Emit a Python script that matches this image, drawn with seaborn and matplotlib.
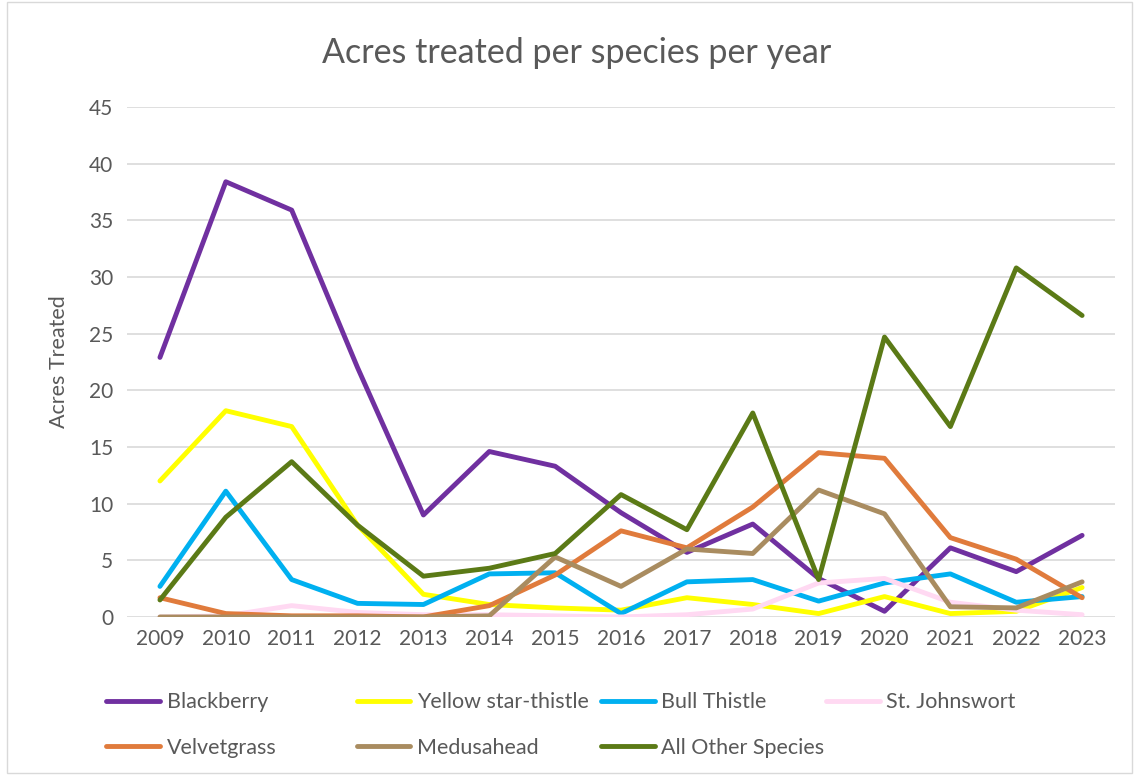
import pandas as pd
import matplotlib
matplotlib.use("Agg")
import matplotlib.pyplot as plt
import seaborn as sns
from matplotlib.patches import Rectangle

# --- Daten ---
YEARS = list(range(2009, 2024))

blackberry = [22.9, 38.4, 35.9, 22.0, 9.0, 14.6, 13.3, 9.2, 5.7, 8.2, 3.4, 0.5, 6.1, 4.0, 7.2]
yellow_star_thistle = [12.0, 18.2, 16.8, 8.1, 2.0, 1.1, 0.8, 0.6, 1.7, 1.1, 0.3, 1.8, 0.3, 0.5, 2.6]
bull_thistle = [2.7, 11.1, 3.3, 1.2, 1.1, 3.8, 3.9, 0.3, 3.1, 3.3, 1.4, 3.0, 3.8, 1.3, 1.8]
st_johnswort = [0.0, 0.1, 1.0, 0.4, 0.2, 0.2, 0.1, 0.0, 0.2, 0.7, 3.0, 3.4, 1.3, 0.6, 0.2]
velvetgrass = [1.7, 0.3, 0.1, 0.1, 0.0, 1.0, 3.7, 7.6, 6.1, 9.7, 14.5, 14.0, 7.0, 5.1, 1.7]
medusahead = [0.0, 0.0, 0.0, 0.0, 0.0, 0.1, 5.3, 2.7, 6.0, 5.6, 11.2, 9.1, 0.9, 0.8, 3.1]
all_other = [1.5, 8.8, 13.7, 8.1, 3.6, 4.3, 5.6, 10.8, 7.7, 18.0, 3.3, 24.7, 16.8, 30.8, 26.6]

SPECIES = ["Blackberry", "Yellow star-thistle", "Bull Thistle", "St. Johnswort",
           "Velvetgrass", "Medusahead", "All Other Species"]
VALUES = [blackberry, yellow_star_thistle, bull_thistle, st_johnswort,
          velvetgrass, medusahead, all_other]
COLORS = ["#7030A0", "#FFFF00", "#00B0F0", "#FFD9F2",
          "#E07B3C", "#A98C60", "#5B7A16"]

# Long-Format fuer seaborn
rows = []
for name, vals in zip(SPECIES, VALUES):
    for i, v in enumerate(vals):
        rows.append({"year_idx": i, "species": name, "acres": v})
df = pd.DataFrame(rows)

sns.set_style("white")
plt.rcParams["font.family"] = ["Lato", "DejaVu Sans"]
TEXT_GRAY = "#595959"

fig = plt.figure(figsize=(11.37, 7.75), dpi=100)
ax = fig.add_axes([0.1117, 0.2039, 0.869, 0.6581])

sns.lineplot(data=df, x="year_idx", y="acres", hue="species", hue_order=SPECIES,
             palette=dict(zip(SPECIES, COLORS)), linewidth=3.5, ax=ax,
             solid_capstyle="round", solid_joinstyle="round", legend=True)

ax.set_xlim(-0.5, len(YEARS) - 0.5)
ax.set_ylim(0, 45)
ax.set_yticks(range(0, 46, 5))
ax.set_xticks(range(len(YEARS)))
ax.set_xticklabels([str(y) for y in YEARS])
ax.yaxis.grid(True, color="#D9D9D9", linewidth=1.2)
ax.set_axisbelow(True)
for s in ax.spines.values():
    s.set_visible(False)
ax.tick_params(axis="both", length=0, labelsize=15, colors=TEXT_GRAY)
ax.tick_params(axis="x", pad=9)
ax.tick_params(axis="y", pad=10)
ax.set_xlabel("")
ax.set_ylabel("Acres Treated", fontsize=15.5, color=TEXT_GRAY, labelpad=14)

fig.text(0.507, 0.931, "Acres treated per species per year", ha="center", va="center",
         fontsize=24.5, color=TEXT_GRAY)

# Legende: je Spalte eine eigene Legende, damit die Spalten wie im Original sitzen
handles, labels = ax.get_legend_handles_labels()
ax.get_legend().remove()
col_x = [0.086, 0.306, 0.521, 0.719]
columns = [[0, 4], [1, 5], [2, 6], [3]]
for x0, idx in zip(col_x, columns):
    leg = fig.legend([handles[i] for i in idx], [labels[i] for i in idx],
                     loc="upper left", bbox_to_anchor=(x0, 0.118),
                     frameon=False, fontsize=15.5, handlelength=2.5,
                     handletextpad=0.3, labelspacing=1.2, borderaxespad=0,
                     labelcolor=TEXT_GRAY)
    for ln in leg.get_lines():
        ln.set_linewidth(3.5)
        ln.set_solid_capstyle("round")

# Rahmen um das Diagramm (wie in Excel)
fig.patches.append(Rectangle((0.006, 0.002), 0.99, 0.996, transform=fig.transFigure,
                             fill=False, edgecolor="#D9D9D9", linewidth=1))

fig.savefig("out.png", dpi=100)
